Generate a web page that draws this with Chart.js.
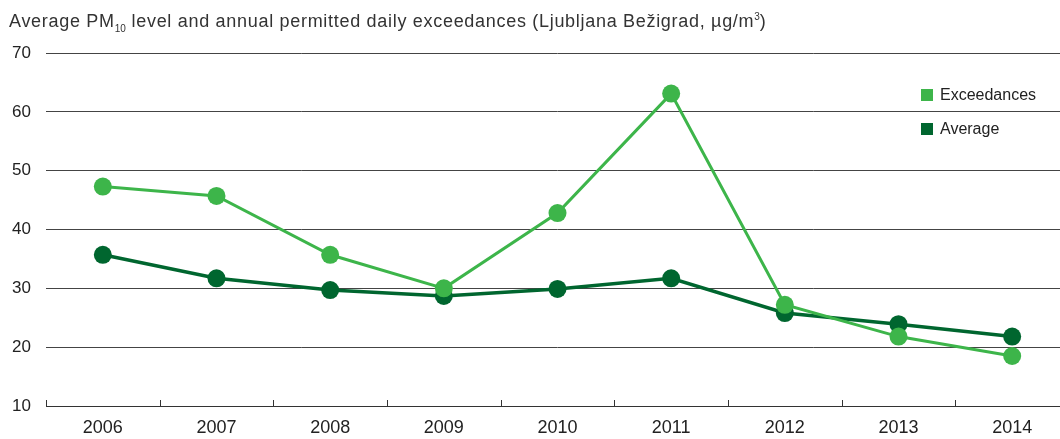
<!DOCTYPE html>
<html>
<head>
<meta charset="utf-8">
<script src="https://cdn.jsdelivr.net/npm/chart.js@4"></script>
<style>
  html, body { margin: 0; padding: 0; background: #fff; overflow: hidden; }
  #wrap { position: relative; width: 1060px; height: 439px; overflow: hidden; }
  #chart { position: absolute; left: 0; top: 0; }
  .title {
    position: absolute; left: 9px; top: 11px; line-height: 20px;
    font-family: "Liberation Sans", Arial, sans-serif; font-size: 18px; color: #333;
    letter-spacing: 0.7px; white-space: nowrap;
  }
  .title sub, .title sup { font-size: 10px; line-height: 0; letter-spacing: 0; }
  .legend {
    position: absolute; left: 921px; font-family: "Liberation Sans", Arial, sans-serif;
    font-size: 16px; color: #222; line-height: 20px;
  }
  .legend span {
    display: inline-block; width: 12px; height: 12px; margin-right: 7px; vertical-align: -1px;
  }
</style>
</head>
<body>
<div id="wrap">
  <canvas id="chart" width="1078" height="439"></canvas>
  <div class="title">Average PM<sub>10</sub> level and annual permitted daily exceedances (Ljubljana Bežigrad, µg/m<sup>3</sup>)</div>
  <div class="legend" style="top:85px"><span style="background:#3db54a"></span>Exceedances</div>
  <div class="legend" style="top:119px"><span style="background:#00662f"></span>Average</div>
</div>
<script>
const years = ["2006", "2007", "2008", "2009", "2010", "2011", "2012", "2013", "2014"];
const exceedances = [47.3, 45.7, 35.7, 30, 42.8, 63.1, 27.2, 21.8, 18.5];
const average = [35.7, 31.7, 29.7, 28.7, 29.9, 31.7, 25.8, 23.9, 21.8];
const yTicks = [10, 20, 30, 40, 50, 60, 70];

const lightGreen = "#3db54a";
const darkGreen = "#00662f";

// small tick marks between categories, pointing up from the axis
const boundaryTicks = {
  id: "boundaryTicks",
  afterDraw(chart) {
    const x = chart.scales.x;
    const bottom = chart.chartArea.bottom;
    const step = x.getPixelForValue(1) - x.getPixelForValue(0);
    const c = chart.ctx;
    c.save();
    c.strokeStyle = "#333";
    c.lineWidth = 1;
    for (let i = 0; i < years.length; i++) {
      const px = Math.round(x.getPixelForValue(i) - step / 2) + 0.5;
      c.beginPath();
      c.moveTo(px, bottom - 6);
      c.lineTo(px, bottom);
      c.stroke();
    }
    c.restore();
  },
};

const ctx = document.getElementById("chart").getContext("2d");
new Chart(ctx, {
  type: "line",
  data: {
    labels: years,
    datasets: [
      {
        label: "Exceedances",
        data: exceedances,
        borderColor: lightGreen,
        backgroundColor: lightGreen,
        borderWidth: 3,
        pointRadius: 9,
        pointBorderWidth: 0,
        tension: 0,
      },
      {
        label: "Average",
        data: average,
        borderColor: darkGreen,
        backgroundColor: darkGreen,
        borderWidth: 3.5,
        pointRadius: 9,
        pointBorderWidth: 0,
        tension: 0,
      },
    ],
  },
  options: {
    responsive: false,
    animation: false,
    layout: { padding: { left: 12, right: 1, top: 53, bottom: 0 } },
    plugins: {
      legend: { display: false },
      title: { display: false },
      tooltip: { enabled: false },
    },
    scales: {
      x: {
        offset: true,
        grid: { display: false, drawTicks: false },
        border: { display: true, color: "#333", width: 1 },
        afterFit: (axis) => { axis.height = 33; },
        ticks: {
          color: "#222",
          padding: 11,
          font: { family: "Liberation Sans", size: 18 },
          maxRotation: 0,
        },
      },
      y: {
        min: 10,
        max: 70,
        afterBuildTicks: (axis) => {
          axis.ticks = yTicks.map((v) => ({ value: v }));
        },
        afterFit: (axis) => { axis.width = 34; },
        grid: { color: "#444", lineWidth: 1, drawTicks: false },
        border: { display: false },
        ticks: {
          color: "#222",
          padding: 15,
          font: { family: "Liberation Sans", size: 17 },
        },
      },
    },
  },
  plugins: [boundaryTicks],
});
</script>
</body>
</html>
